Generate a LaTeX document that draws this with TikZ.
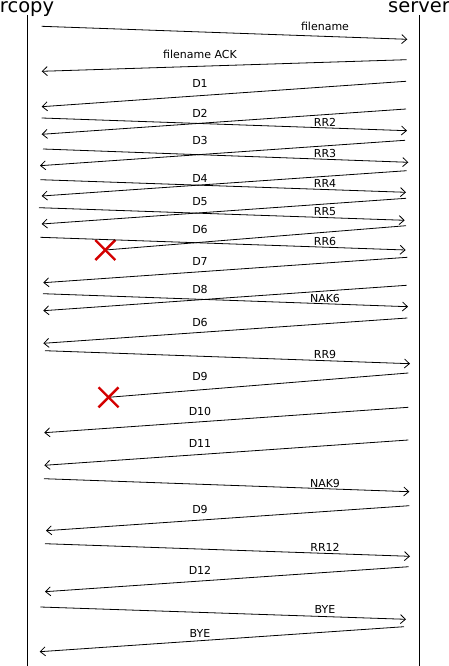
\documentclass[tikz,border=0pt]{standalone}
\usepackage{fontspec}
\setmainfont{DejaVu Sans}
\usetikzlibrary{arrows.meta}
\definecolor{xred}{RGB}{212,0,0}
\begin{document}
\begin{tikzpicture}[x=1pt,y=-1pt,
  msg/.style={draw, line width=0.8pt, -{Straight Barb[length=5pt,width=9pt,line width=0.8pt]}},
  lostmsg/.style={draw, line width=0.8pt},
  lifeline/.style={draw, line width=0.9pt},
  lbl/.style={font=\fontsize{11}{13}\selectfont, inner sep=0pt, anchor=center},
  ttl/.style={font=\fontsize{19.5}{23}\selectfont, inner sep=0pt, anchor=base},
  crossline/.style={draw=xred, line width=2.4pt}]
\useasboundingbox (0,0) rectangle (449,666);
% titles and lifelines
\node[ttl] (tc) at (27,12.3) {rcopy};
\node[ttl] (ts) at (419,12.3) {server};
\coordinate (ctop) at (27,15); \coordinate (cbot) at (27,666);
\coordinate (stop) at (419,15); \coordinate (sbot) at (419,666);
\draw[lifeline] (ctop) -- (cbot);
\draw[lifeline] (stop) -- (sbot);
% filename
\coordinate (a1) at (41.7,26.3); \coordinate (b1) at (407.3,39.3);
\draw[msg] (a1) -- (b1);
\node[lbl] (l1) at (325,26.3) {filename};
% filename ACK
\coordinate (a2) at (406.7,59.7); \coordinate (b2) at (41.7,71.3);
\draw[msg] (a2) -- (b2);
\node[lbl] (l2) at (200,54.3) {filename ACK};
% D1
\coordinate (a3) at (406,81.3); \coordinate (b3) at (41.7,106.7);
\draw[msg] (a3) -- (b3);
\node[lbl] (l3) at (200,83.3) {D1};
% D2
\coordinate (a4) at (406,109); \coordinate (b4) at (41.7,134.3);
\draw[msg] (a4) -- (b4);
\node[lbl] (l4) at (200,113.3) {D2};
% RR2
\coordinate (a5) at (41.7,118); \coordinate (b5) at (407,130.7);
\draw[msg] (a5) -- (b5);
\node[lbl] (l5) at (325,122.7) {RR2};
% D3
\coordinate (a6) at (405,140.3); \coordinate (b6) at (40,165.7);
\draw[msg] (a6) -- (b6);
\node[lbl] (l6) at (200,140.7) {D3};
% RR3
\coordinate (a7) at (43,149); \coordinate (b7) at (408.3,162.3);
\draw[msg] (a7) -- (b7);
\node[lbl] (l7) at (325,153.3) {RR3};
% D4
\coordinate (a8) at (406.7,170.7); \coordinate (b8) at (41.7,196);
\draw[msg] (a8) -- (b8);
\node[lbl] (l8) at (200,178.7) {D4};
% RR4
\coordinate (a9) at (40.3,179.7); \coordinate (b9) at (406,192.3);
\draw[msg] (a9) -- (b9);
\node[lbl] (l9) at (325,183.3) {RR4};
% D5
\coordinate (a10) at (406,198.3); \coordinate (b10) at (41.7,224);
\draw[msg] (a10) -- (b10);
\node[lbl] (l10) at (200,202) {D5};
% RR5
\coordinate (a11) at (39,207.7); \coordinate (b11) at (404.7,220.3);
\draw[msg] (a11) -- (b11);
\node[lbl] (l11) at (325,211.3) {RR5};
% D6 (lost)
\coordinate (a12) at (406,225.7); \coordinate (x1) at (105.3,250);
\draw[lostmsg] (a12) -- (x1);
\node[lbl] (l12) at (200,229.3) {D6};
\draw[crossline] ([shift={(-10,-10)}]x1) -- ([shift={(10,10)}]x1);
\draw[crossline] ([shift={(-10,10)}]x1) -- ([shift={(10,-10)}]x1);
% RR6
\coordinate (a13) at (40.3,237.3); \coordinate (b13) at (405.7,250);
\draw[msg] (a13) -- (b13);
\node[lbl] (l13) at (325,241) {RR6};
% D7
\coordinate (a14) at (407.3,257.3); \coordinate (b14) at (43.3,282.7);
\draw[msg] (a14) -- (b14);
\node[lbl] (l14) at (200,261) {D7};
% D8
\coordinate (a15) at (406.7,285.3); \coordinate (b15) at (43.3,310.7);
\draw[msg] (a15) -- (b15);
\node[lbl] (l15) at (200,289.3) {D8};
% NAK6
\coordinate (a16) at (43,293.7); \coordinate (b16) at (408,306.7);
\draw[msg] (a16) -- (b16);
\node[lbl] (l16) at (325,298.3) {NAK6};
% D6 again
\coordinate (a17) at (407.3,318); \coordinate (b17) at (43.3,343.3);
\draw[msg] (a17) -- (b17);
\node[lbl] (l17) at (200,322) {D6};
% RR9
\coordinate (a18) at (45,350.7); \coordinate (b18) at (410,363.7);
\draw[msg] (a18) -- (b18);
\node[lbl] (l18) at (325,354.7) {RR9};
% D9 (lost)
\coordinate (a19) at (408.3,373); \coordinate (x2) at (108.5,397.3);
\draw[lostmsg] (a19) -- (x2);
\node[lbl] (l19) at (200,376) {D9};
\draw[crossline] ([shift={(-10,-10)}]x2) -- ([shift={(10,10)}]x2);
\draw[crossline] ([shift={(-10,10)}]x2) -- ([shift={(10,-10)}]x2);
% D10
\coordinate (a20) at (408.3,407.3); \coordinate (b20) at (44.3,432.7);
\draw[msg] (a20) -- (b20);
\node[lbl] (l20) at (200,411) {D10};
% D11
\coordinate (a21) at (408.3,440); \coordinate (b21) at (44.3,465.3);
\draw[msg] (a21) -- (b21);
\node[lbl] (l21) at (200,443.3) {D11};
% NAK9
\coordinate (a22) at (44,478.7); \coordinate (b22) at (409.3,491.7);
\draw[msg] (a22) -- (b22);
\node[lbl] (l22) at (325,483.3) {NAK9};
% D9 again
\coordinate (a23) at (409.3,505.7); \coordinate (b23) at (46,530.7);
\draw[msg] (a23) -- (b23);
\node[lbl] (l23) at (200,509) {D9};
% RR12
\coordinate (a24) at (45,543.7); \coordinate (b24) at (410,556.3);
\draw[msg] (a24) -- (b24);
\node[lbl] (l24) at (325,547.7) {RR12};
% D12
\coordinate (a25) at (408.7,566.7); \coordinate (b25) at (45,591.7);
\draw[msg] (a25) -- (b25);
\node[lbl] (l25) at (200,570.7) {D12};
% BYE
\coordinate (a26) at (40.3,607); \coordinate (b26) at (406,619.3);
\draw[msg] (a26) -- (b26);
\node[lbl] (l26) at (325,609.3) {BYE};
% BYE back
\coordinate (a27) at (404,626.7); \coordinate (b27) at (39.7,651.7);
\draw[msg] (a27) -- (b27);
\node[lbl] (l27) at (200,633.3) {BYE};
\end{tikzpicture}
\end{document}
